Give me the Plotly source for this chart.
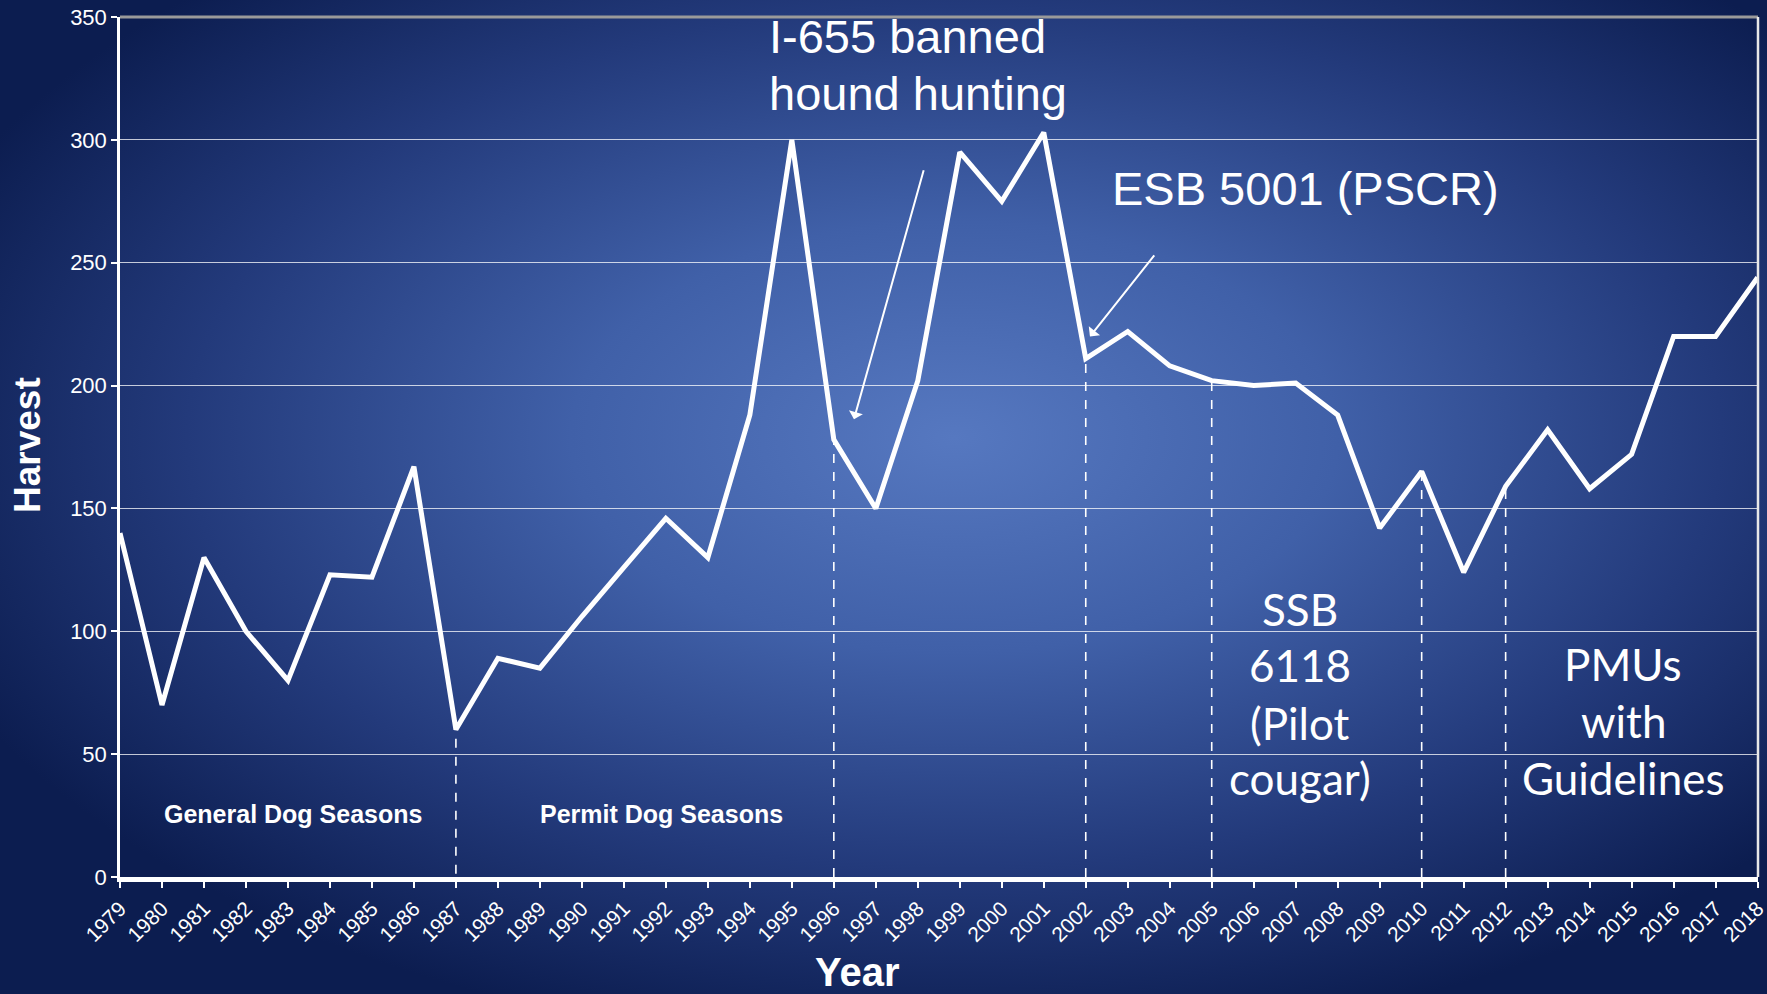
import base64
import plotly.graph_objects as go

# ---------------- data ----------------
years = list(range(1979, 2019))
harvest = [140, 70, 130, 100, 80, 123, 122, 167, 60, 89,
           85, 106, 126, 146, 130, 188, 300, 178, 150, 202,
           295, 275, 303, 211, 222, 208, 202, 200, 201, 188,
           142, 165, 124, 159, 182, 158, 172, 220, 220, 244]
marker_years = [1987, 1996, 2002, 2005, 2010, 2012]
y_ticks = [0, 50, 100, 150, 200, 250, 300, 350]

W, H = 1767, 994
L, R, T, B = 120, 9, 17, 117

# radial gradient background
svg = f'''<svg xmlns="http://www.w3.org/2000/svg" width="{W}" height="{H}" viewBox="0 0 {W} {H}" preserveAspectRatio="none">
<defs><radialGradient id="g" cx="0.54" cy="0.44" r="0.62" gradientUnits="objectBoundingBox">
<stop offset="0" stop-color="#5678c0"/>
<stop offset="0.35" stop-color="#4060a8"/>
<stop offset="0.7" stop-color="#233a7b"/>
<stop offset="1" stop-color="#0c1d50"/>
</radialGradient></defs>
<rect x="0" y="0" width="{W}" height="{H}" fill="url(#g)"/></svg>'''
src = "data:image/svg+xml;base64," + base64.b64encode(svg.encode()).decode()

pw, ph = W - L - R, H - T - B

fig = go.Figure()
fig.add_trace(go.Scatter(x=years, y=harvest, mode="lines",
                         line=dict(color="white", width=5),
                         hoverinfo="skip", showlegend=False, cliponaxis=False))

shapes = []
for yr in marker_years:
    val = harvest[years.index(yr)]
    shapes.append(dict(type="line", xref="x", yref="y", x0=yr, x1=yr, y0=-6 if yr == 1987 else 0, y1=val,
                       line=dict(color="white", width=1.6, dash="dash"), layer="above"))
# plot border lines
shapes.append(dict(type="line", xref="paper", yref="paper", x0=0, x1=1, y0=1, y1=1,
                   line=dict(color="#9a9a9a", width=3)))
shapes.append(dict(type="line", xref="paper", yref="paper", x0=1, x1=1, y0=0, y1=1,
                   line=dict(color="#e8e8e8", width=2.5)))

annotations = []
ARIAL = "Liberation Sans"
txt = dict(color="white", family=ARIAL)
annotations.append(dict(x=1994.4, y=341.9, text="I-655 banned", showarrow=False, xanchor="left",
                        yanchor="middle", font=dict(size=47, **txt)))
annotations.append(dict(x=1994.4, y=318.7, text="hound hunting", showarrow=False, xanchor="left",
                        yanchor="middle", font=dict(size=47, **txt)))
annotations.append(dict(x=2002.58, y=280.4, text="ESB 5001 (PSCR)", showarrow=False, xanchor="left",
                        yanchor="middle", font=dict(size=47, **txt)))
annotations.append(dict(x=1983.12, y=25.6, text="<b>General Dog Seasons</b>", showarrow=False,
                        font=dict(size=25, **txt)))
annotations.append(dict(x=1991.9, y=25.6, text="<b>Permit Dog Seasons</b>", showarrow=False,
                        font=dict(size=25, **txt)))
cal = dict(color="white", family="Lato")
for t, yv in zip(["SSB", "6118", "(Pilot", "cougar)"], [109, 86.3, 62.7, 40.3]):
    annotations.append(dict(x=2007.1, y=yv, text=t, showarrow=False, font=dict(size=44, **cal)))
for t, yv in zip(["PMUs", "with", "Guidelines"], [86.7, 63.5, 40.3]):
    annotations.append(dict(x=2014.8, y=yv, text=t, showarrow=False, font=dict(size=44, **cal)))
# arrows
annotations.append(dict(x=1996.48, y=186.3, ax=1998.15, ay=288.2, axref="x", ayref="y",
                        xref="x", yref="y", text="", showarrow=True, arrowhead=1, arrowsize=1.2,
                        arrowwidth=2, arrowcolor="white"))
annotations.append(dict(x=2002.1, y=220, ax=2003.66, ay=253.6, axref="x", ayref="y",
                        xref="x", yref="y", text="", showarrow=True, arrowhead=1, arrowsize=1.2,
                        arrowwidth=2, arrowcolor="white"))
# axis titles
annotations.append(dict(xref="paper", yref="paper", x=(28 - L) / pw, y=(H - B - 445) / ph,
                        text="<b>Harvest</b>", textangle=-90, showarrow=False,
                        xanchor="center", yanchor="middle",
                        font=dict(size=37, **txt)))
annotations.append(dict(xref="paper", yref="paper", x=(857 - L) / pw, y=(H - B - 972) / ph,
                        text="<b>Year</b>", showarrow=False, xanchor="center", yanchor="middle",
                        font=dict(size=40, **txt)))

fig.update_layout(
    width=W, height=H,
    margin=dict(l=L, r=R, t=T, b=B, pad=0, autoexpand=False),
    paper_bgcolor="#0c1d50",
    plot_bgcolor="rgba(0,0,0,0)",
    showlegend=False,
    shapes=shapes,
    annotations=annotations,
    images=[dict(source=src, xref="paper", yref="paper", x=-L / pw, y=1 + T / ph,
                 sizex=W / pw, sizey=H / ph, sizing="stretch", xanchor="left", yanchor="top",
                 layer="below")],
    xaxis=dict(range=[1979, 2018.01], tickmode="array", tickvals=years,
               ticktext=[str(y) for y in years], tickangle=-45,
               tickfont=dict(size=21, color="white", family=ARIAL),
               ticklabeloverflow="allow", automargin=False,
               showgrid=False, zeroline=False, showline=True, linecolor="white", linewidth=5,
               ticks="outside", ticklen=6, tickcolor="white", tickwidth=1.5),
    yaxis=dict(range=[0, 350], tickmode="array", tickvals=y_ticks, automargin=False,
               tickfont=dict(size=22, color="white", family=ARIAL),
               showgrid=True, gridcolor="rgba(255,255,255,0.75)", gridwidth=1.2,
               zeroline=False, showline=True, linecolor="white", linewidth=2.5,
               ticks="outside", ticklen=6, tickcolor="white", tickwidth=1.5),
)

fig.write_html("out.html", config={"displayModeBar": False},
               post_script="document.body.style.margin='0';document.body.style.overflow='hidden';")
